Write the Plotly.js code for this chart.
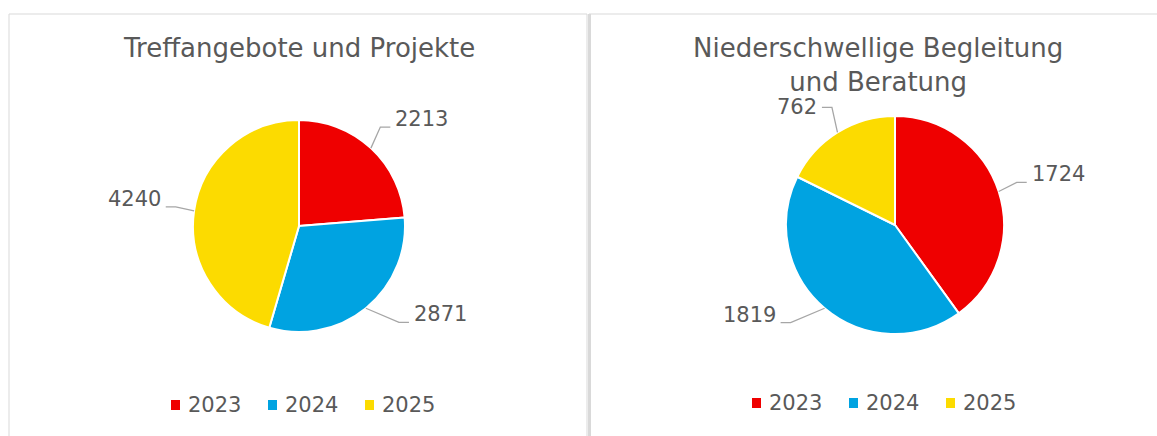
<!DOCTYPE html>
<html><head><meta charset="utf-8">
<script src="https://cdn.plot.ly/plotly-3.0.1.min.js"></script>
<style>html,body{margin:0;padding:0;background:#fff}</style>
</head><body><div id="chart" style="width:1157px;height:436px"></div>
<script>
const years = ['2023', '2024', '2025'];
const treffValues = [2213, 2871, 4240];
const begleitValues = [1724, 1819, 762];
const titleLeft = 'Treffangebote und Projekte';
const titleRight = 'Niederschwellige Begleitung<br>und Beratung';
const sliceColors = ['#EF0000', '#00A3E1', '#FCDB00'];

const W = 1157, H = 436;
const FONT = 'DejaVu Sans, sans-serif';
const TXT = '#595959';
const px = x => x / W, py = y => 1 - y / H;

const pies = [
  {values: treffValues, cx: 299, cy: 226, r: 106, legendX: 171, legendY: 405, title: titleLeft, tx: 299, ty: 48},
  {values: begleitValues, cx: 895, cy: 225, r: 109, legendX: 752, legendY: 403, title: titleRight, tx: 878, ty: 65}
];

const traces = [], shapes = [], annotations = [];
const layout = {
  width: W, height: H, margin: {l: 0, r: 0, t: 0, b: 0},
  paper_bgcolor: '#fff', plot_bgcolor: '#fff', showlegend: false,
  font: {family: FONT, color: TXT}
};

pies.forEach((p, i) => {
  traces.push({
    type: 'pie', labels: years, values: p.values, sort: false,
    direction: 'clockwise', rotation: 0, textinfo: 'none', hoverinfo: 'label+value',
    marker: {colors: sliceColors, line: {color: '#ffffff', width: 2}},
    domain: {x: [px(p.cx - p.r), px(p.cx + p.r)], y: [py(p.cy + p.r), py(p.cy - p.r)]},
    showlegend: false
  });
  // title
  annotations.push({
    xref: 'paper', yref: 'paper', x: px(p.tx), y: py(p.ty), xanchor: 'center', yanchor: 'middle',
    text: p.title, showarrow: false, font: {family: FONT, size: 26, color: TXT}
  });
  // data labels with leader lines
  const total = p.values.reduce((a, b) => a + b, 0);
  let cum = 0;
  p.values.forEach(v => {
    const mid = (cum + v / 2) / total * 2 * Math.PI;
    cum += v;
    const dx = Math.sin(mid), dy = -Math.cos(mid);
    const side = dx >= 0 ? 1 : -1;
    const P = [p.cx + p.r * dx, p.cy + p.r * dy];
    const L = [p.cx + 1.27 * p.r * dx, p.cy + 1.27 * p.r * dy];
    let textDy = -8;
    if (dy > 0.5) { L[0] += side * 25; L[1] -= 8; }      // lower labels pulled sideways
    if (dy < -0.8) { textDy = 0; }                       // near-top labels sit beside line end
    const Q = [L[0] - side * 10, L[1]];
    shapes.push({
      type: 'path', xref: 'paper', yref: 'paper',
      path: `M${px(P[0])},${py(P[1])} L${px(Q[0])},${py(Q[1])} L${px(L[0])},${py(L[1])}`,
      line: {color: '#A6A6A6', width: 1.3}
    });
    annotations.push({
      xref: 'paper', yref: 'paper', x: px(L[0] + side * 3), y: py(L[1] + textDy),
      xanchor: side > 0 ? 'left' : 'right', yanchor: 'middle', showarrow: false,
      text: String(v), font: {family: FONT, size: 21, color: TXT}
    });
  });
  // legend (swatch + label per year)
  years.forEach((yr, k) => {
    const x0 = p.legendX + k * 97;
    shapes.push({type: 'rect', xref: 'paper', yref: 'paper',
      x0: px(x0), x1: px(x0 + 9), y0: py(p.legendY + 5), y1: py(p.legendY - 5),
      fillcolor: sliceColors[k], line: {width: 0}});
    annotations.push({
      xref: 'paper', yref: 'paper', x: px(x0 + 15), y: py(p.legendY), xanchor: 'left', yanchor: 'middle',
      text: yr, showarrow: false, font: {family: FONT, size: 21, color: TXT}
    });
  });
});

// panel borders
shapes.push({type: 'rect', xref: 'paper', yref: 'paper', x0: px(9), x1: px(587), y0: py(14), y1: py(445),
  line: {color: '#D9D9D9', width: 1}, layer: 'below'});
shapes.push({type: 'line', xref: 'paper', yref: 'paper', x0: px(589), x1: px(1160), y0: py(14), y1: py(14),
  line: {color: '#D9D9D9', width: 1}, layer: 'below'});
shapes.push({type: 'line', xref: 'paper', yref: 'paper', x0: px(589.5), x1: px(589.5), y0: py(14), y1: py(445),
  line: {color: '#D9D9D9', width: 3}, layer: 'below'});

layout.shapes = shapes;
layout.annotations = annotations;
Plotly.newPlot('chart', traces, layout, {displayModeBar: false, staticPlot: true});
</script></body></html>
